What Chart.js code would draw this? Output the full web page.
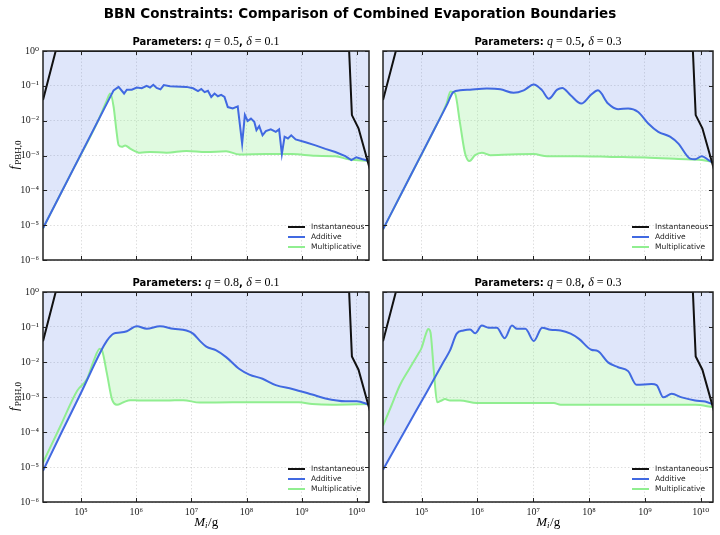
<!DOCTYPE html>
<html>
<head>
<meta charset="utf-8">
<script src="https://cdn.jsdelivr.net/npm/chart.js@4.4.0/dist/chart.umd.min.js"></script>
<style>
  body { margin: 0; background: #fff; width: 720px; height: 535px; position: relative; overflow: hidden; }
  canvas { position: absolute; }
  #suptitle { position: absolute; left: 0; top: 5px; width: 720px; text-align: center;
    font: bold 13.5px "DejaVu Sans", sans-serif; line-height: 17px; color: #000; z-index: 2; }
</style>
</head>
<body>
<div id="suptitle">BBN Constraints: Comparison of Combined Evaporation Boundaries</div>
<canvas id="c1" width="372" height="270" style="left:0;top:0"></canvas>
<canvas id="c2" width="348" height="270" style="left:372px;top:0"></canvas>
<canvas id="c3" width="372" height="265" style="left:0;top:270px"></canvas>
<canvas id="c4" width="348" height="265" style="left:372px;top:270px"></canvas>
<script>
// all values are log10 exponents
const massTicks = [5, 6, 7, 8, 9, 10];
const fracTicks = [-6, -5, -4, -3, -2, -1, 0];
const massRange = [4.31, 10.22];

// Instantaneous boundary (same in every panel)
const instM = [4.31, 4.54, 9.86, 9.91, 10.03, 10.25];
const instF = [-1.41, 0, 0, -1.84, -2.22, -3.47];

// q=0.5, delta=0.1
const addM_1 = [4.31, 5.59, 5.68, 5.78, 5.83, 5.92, 6.01, 6.10, 6.19, 6.25, 6.31, 6.37, 6.44, 6.50, 6.61, 6.91, 7.03, 7.12, 7.18, 7.24, 7.30, 7.36, 7.42, 7.48, 7.54, 7.60, 7.66, 7.75, 7.84, 7.87, 7.92, 7.97, 8.02, 8.08, 8.14, 8.18, 8.23, 8.29, 8.35, 8.44, 8.53, 8.59, 8.64, 8.69, 8.75, 8.81, 8.89, 9.07, 9.25, 9.43, 9.61, 9.79, 9.90, 9.99, 10.09, 10.22];
const addF_1 = [-5.09, -1.13, -1.03, -1.22, -1.11, -1.11, -1.05, -1.07, -1.00, -1.05, -0.97, -1.06, -1.10, -0.98, -1.01, -1.03, -1.07, -1.15, -1.09, -1.18, -1.14, -1.32, -1.22, -1.30, -1.26, -1.32, -1.61, -1.65, -1.59, -1.99, -2.66, -1.84, -2.01, -1.94, -2.03, -2.27, -2.16, -2.42, -2.30, -2.25, -2.32, -2.25, -2.96, -2.46, -2.51, -2.42, -2.54, -2.62, -2.71, -2.81, -2.90, -3.02, -3.13, -3.05, -3.10, -3.16];
const mulM_1 = [4.31, 4.80, 5.30, 5.46, 5.53, 5.59, 5.64, 5.68, 5.74, 5.80, 5.89, 6.07, 6.25, 6.55, 6.91, 7.27, 7.63, 7.87, 8.35, 8.83, 9.25, 9.61, 9.85, 10.22];
const mulF_1 = [-5.09, -3.57, -2.03, -1.45, -1.22, -1.60, -2.27, -2.70, -2.75, -2.71, -2.80, -2.92, -2.90, -2.92, -2.87, -2.90, -2.88, -2.97, -2.96, -2.96, -3.01, -3.02, -3.11, -3.16];

// q=0.5, delta=0.3
const addM_2 = [4.31, 4.80, 5.20, 5.45, 5.57, 5.69, 5.87, 6.17, 6.41, 6.65, 6.83, 7.01, 7.16, 7.28, 7.43, 7.52, 7.67, 7.86, 8.04, 8.16, 8.34, 8.52, 8.70, 8.88, 9.06, 9.24, 9.45, 9.60, 9.81, 9.90, 10.02, 10.14, 10.22];
const addF_2 = [-5.12, -3.59, -2.34, -1.56, -1.18, -1.13, -1.11, -1.08, -1.10, -1.20, -1.13, -0.96, -1.13, -1.37, -1.11, -1.06, -1.27, -1.51, -1.25, -1.13, -1.51, -1.67, -1.65, -1.75, -2.08, -2.32, -2.46, -2.66, -3.09, -3.11, -3.02, -3.13, -3.21];
const mulM_2 = [4.31, 4.80, 5.20, 5.45, 5.52, 5.60, 5.69, 5.78, 5.86, 5.96, 6.08, 6.23, 6.59, 7.01, 7.25, 7.80, 8.40, 9.00, 9.60, 10.02, 10.22];
const mulF_2 = [-5.12, -3.59, -2.34, -1.50, -1.16, -1.22, -2.08, -2.94, -3.16, -2.99, -2.92, -2.99, -2.97, -2.96, -3.02, -3.02, -3.04, -3.06, -3.10, -3.13, -3.19];

// q=0.8, delta=0.1
const addM_3 = [4.31, 4.65, 5.00, 5.35, 5.47, 5.59, 5.71, 5.83, 6.01, 6.19, 6.43, 6.67, 6.91, 7.03, 7.15, 7.27, 7.45, 7.63, 7.87, 8.05, 8.29, 8.53, 8.83, 9.19, 9.43, 9.79, 10.00, 10.22];
const addF_3 = [-5.11, -4.00, -2.88, -1.72, -1.39, -1.19, -1.16, -1.12, -0.98, -1.05, -0.98, -1.05, -1.10, -1.19, -1.39, -1.56, -1.67, -1.86, -2.20, -2.36, -2.48, -2.66, -2.77, -2.93, -3.04, -3.12, -3.12, -3.22];
const mulM_3 = [4.31, 4.62, 4.93, 5.11, 5.23, 5.34, 5.38, 5.47, 5.56, 5.65, 5.77, 5.89, 6.07, 6.55, 6.85, 7.15, 7.75, 8.35, 8.95, 9.19, 9.55, 10.22];
const mulF_3 = [-4.87, -3.85, -2.82, -2.48, -1.96, -1.62, -1.67, -2.34, -3.06, -3.22, -3.15, -3.09, -3.10, -3.10, -3.09, -3.16, -3.15, -3.15, -3.15, -3.20, -3.22, -3.20];

// q=0.8, delta=0.3
const addM_4 = [4.31, 4.70, 5.10, 5.40, 5.51, 5.63, 5.75, 5.87, 5.96, 6.08, 6.20, 6.35, 6.49, 6.62, 6.71, 6.86, 7.01, 7.16, 7.31, 7.49, 7.67, 7.82, 8.04, 8.16, 8.34, 8.52, 8.70, 8.85, 9.12, 9.21, 9.33, 9.48, 9.66, 9.90, 10.08, 10.22];
const addF_4 = [-5.08, -3.97, -2.84, -1.98, -1.67, -1.19, -1.10, -1.07, -1.18, -0.96, -1.02, -1.02, -1.32, -0.96, -1.05, -1.05, -1.40, -1.02, -1.08, -1.10, -1.19, -1.34, -1.65, -1.69, -2.01, -2.15, -2.26, -2.65, -2.63, -2.66, -3.01, -2.91, -3.01, -3.10, -3.13, -3.21];
const mulM_4 = [4.31, 4.46, 4.61, 4.78, 4.94, 5.00, 5.08, 5.12, 5.16, 5.22, 5.28, 5.36, 5.42, 5.51, 5.69, 5.99, 6.59, 7.37, 7.49, 8.70, 9.90, 10.22];
const mulF_4 = [-3.82, -3.25, -2.67, -2.20, -1.77, -1.60, -1.19, -1.06, -1.15, -2.25, -3.15, -3.10, -3.06, -3.10, -3.10, -3.17, -3.17, -3.17, -3.22, -3.22, -3.22, -3.29];

const blueFill = 'rgba(65,105,225,0.17)';
const greenFill = 'rgba(144,238,144,0.28)';
const sansFont = '"DejaVu Sans", sans-serif';
const serifFont = '"Liberation Serif", "DejaVu Serif", serif';

function toPoints(lm, lf) {
  return lm.map((m, i) => ({ x: Math.pow(10, m), y: Math.pow(10, lf[i]) }));
}

const supMap = { '-': '⁻', '0': '⁰', '1': '¹', '2': '²', '3': '³', '4': '⁴', '5': '⁵', '6': '⁶', '7': '⁷', '8': '⁸', '9': '⁹' };
function powLabel(v) {
  const e = Math.round(Math.log10(v));
  return '10' + String(e).split('').map(c => supMap[c]).join('');
}

// frame, inward ticks, legend, panel title and axis labels
const panelDecor = {
  id: 'panelDecor',
  afterDraw(chart, args, opts) {
    const { ctx, chartArea: a, scales } = chart;
    ctx.save();
    ctx.strokeStyle = '#222';
    ctx.lineWidth = 1;
    ctx.beginPath();
    scales.x.ticks.forEach(t => {
      const px = Math.round(scales.x.getPixelForValue(t.value)) + 0.5;
      ctx.moveTo(px, a.bottom); ctx.lineTo(px, a.bottom - 4);
      ctx.moveTo(px, a.top); ctx.lineTo(px, a.top + 4);
    });
    scales.y.ticks.forEach(t => {
      const py = Math.round(scales.y.getPixelForValue(t.value)) + 0.5;
      ctx.moveTo(a.left, py); ctx.lineTo(a.left + 4, py);
      ctx.moveTo(a.right, py); ctx.lineTo(a.right - 4, py);
    });
    ctx.stroke();
    ctx.lineWidth = 1.5;
    ctx.strokeRect(a.left, a.top, a.right - a.left, a.bottom - a.top);

    // legend in the lower right corner
    ctx.font = '7.5px ' + sansFont;
    ctx.textBaseline = 'middle';
    ctx.textAlign = 'left';
    chart.data.datasets.forEach((ds, i) => {
      const y = a.bottom - 33 + i * 10;
      ctx.strokeStyle = ds.borderColor;
      ctx.lineWidth = 2;
      ctx.beginPath();
      ctx.moveTo(a.right - 81, y); ctx.lineTo(a.right - 64, y);
      ctx.stroke();
      ctx.fillStyle = '#222';
      ctx.fillText(ds.label, a.right - 58, y);
    });

    // title with mixed fonts
    const parts = [
      ['Parameters: ', 'bold 10px ' + sansFont],
      ['q', 'italic 12px ' + serifFont],
      [' = 0.' + opts.q, '12px ' + serifFont],
      [', ', 'bold 10px ' + sansFont],
      ['δ', 'italic 12px ' + serifFont],
      [' = 0.' + opts.d, '12px ' + serifFont]
    ];
    let total = 0;
    parts.forEach(p => { ctx.font = p[1]; total += ctx.measureText(p[0]).width; });
    let x = (a.left + a.right) / 2 - total / 2;
    ctx.fillStyle = '#000';
    ctx.textBaseline = 'alphabetic';
    parts.forEach(p => { ctx.font = p[1]; ctx.fillText(p[0], x, a.top - 6); x += ctx.measureText(p[0]).width; });

    if (opts.yLabel) {
      ctx.save();
      ctx.translate(14, (a.top + a.bottom) / 2);
      ctx.rotate(-Math.PI / 2);
      ctx.font = 'italic 13px ' + serifFont;
      const w1 = ctx.measureText('f').width;
      ctx.font = '9px ' + serifFont;
      const w2 = ctx.measureText('PBH,0').width;
      let sx = -(w1 + w2) / 2;
      ctx.font = 'italic 13px ' + serifFont;
      ctx.fillText('f', sx, 4);
      ctx.font = '9px ' + serifFont;
      ctx.fillText('PBH,0', sx + w1 + 1, 7);
      ctx.restore();
    }
    if (opts.xLabel) {
      const cx = (a.left + a.right) / 2;
      const by = a.bottom + 24;
      ctx.font = 'italic 13px ' + serifFont;
      const wM = ctx.measureText('M').width;
      ctx.font = 'italic 9px ' + serifFont;
      const wi = ctx.measureText('i').width;
      ctx.font = '13px ' + serifFont;
      const wg = ctx.measureText('/g').width;
      let sx = cx - (wM + wi + wg) / 2;
      ctx.font = 'italic 13px ' + serifFont;
      ctx.fillText('M', sx, by);
      ctx.font = 'italic 9px ' + serifFont;
      ctx.fillText('i', sx + wM, by + 2);
      ctx.font = '13px ' + serifFont;
      ctx.fillText('/g', sx + wM + wi + 0.5, by);
    }
    ctx.restore();
  }
};

function makePanel(id, p) {
  new Chart(document.getElementById(id), {
    type: 'line',
    data: {
      datasets: [
        { label: 'Instantaneous', data: toPoints(instM, instF), borderColor: '#111', borderWidth: 2,
          pointRadius: 0, fill: false, tension: 0 },
        { label: 'Additive', data: toPoints(p.addM, p.addF), borderColor: 'royalblue', borderWidth: 2,
          backgroundColor: blueFill, pointRadius: 0, fill: 'end',
          tension: p.smooth ? 0.4 : 0, cubicInterpolationMode: p.smooth ? 'monotone' : 'default' },
        { label: 'Multiplicative', data: toPoints(p.mulM, p.mulF), borderColor: 'lightgreen', borderWidth: 2,
          pointRadius: 0, fill: { target: 1, above: 'rgba(0,0,0,0)', below: greenFill },
          tension: 0.4, cubicInterpolationMode: 'monotone' }
      ]
    },
    options: {
      responsive: false,
      animation: false,
      events: [],
      layout: { padding: { left: 0, top: p.padTop, right: p.padRight, bottom: 0 } },
      plugins: {
        legend: { display: false },
        tooltip: { enabled: false },
        filler: { drawTime: 'beforeDatasetsDraw' },
        panelDecor: { q: p.q, d: p.d, yLabel: p.left, xLabel: p.bottom }
      },
      scales: {
        x: {
          type: 'logarithmic',
          min: Math.pow(10, massRange[0]),
          max: Math.pow(10, massRange[1]),
          afterBuildTicks: s => { s.ticks = massTicks.map(e => ({ value: Math.pow(10, e) })); },
          afterFit: s => { s.height = p.bottom ? 33 : 10; },
          grid: { color: 'rgba(0,0,0,0.16)', lineWidth: 0.8, drawTicks: false },
          border: { display: false, dash: [1.5, 2] },
          ticks: { display: p.bottom, callback: powLabel, padding: 4, color: '#222',
            font: { family: serifFont, size: 10 }, maxRotation: 0 }
        },
        y: {
          type: 'logarithmic',
          min: 1e-6,
          max: 1,
          afterBuildTicks: s => { s.ticks = fracTicks.map(e => ({ value: Math.pow(10, e) })); },
          afterFit: s => { s.width = p.left ? 43 : 11; },
          grid: { color: 'rgba(0,0,0,0.16)', lineWidth: 0.8, drawTicks: false },
          border: { display: false, dash: [1.5, 2] },
          ticks: { display: p.left, callback: powLabel, padding: 4, color: '#222',
            font: { family: serifFont, size: 10 } }
        }
      }
    },
    plugins: [panelDecor]
  });
}

makePanel('c1', { addM: addM_1, addF: addF_1, mulM: mulM_1, mulF: mulF_1, q: '5', d: '1',
  smooth: false, left: true, bottom: false, padTop: 51, padRight: 3 });
makePanel('c2', { addM: addM_2, addF: addF_2, mulM: mulM_2, mulF: mulF_2, q: '5', d: '3',
  smooth: true, left: false, bottom: false, padTop: 51, padRight: 7 });
makePanel('c3', { addM: addM_3, addF: addF_3, mulM: mulM_3, mulF: mulF_3, q: '8', d: '1',
  smooth: true, left: true, bottom: true, padTop: 22, padRight: 3 });
makePanel('c4', { addM: addM_4, addF: addF_4, mulM: mulM_4, mulF: mulF_4, q: '8', d: '3',
  smooth: true, left: false, bottom: true, padTop: 22, padRight: 7 });
</script>
</body>
</html>
